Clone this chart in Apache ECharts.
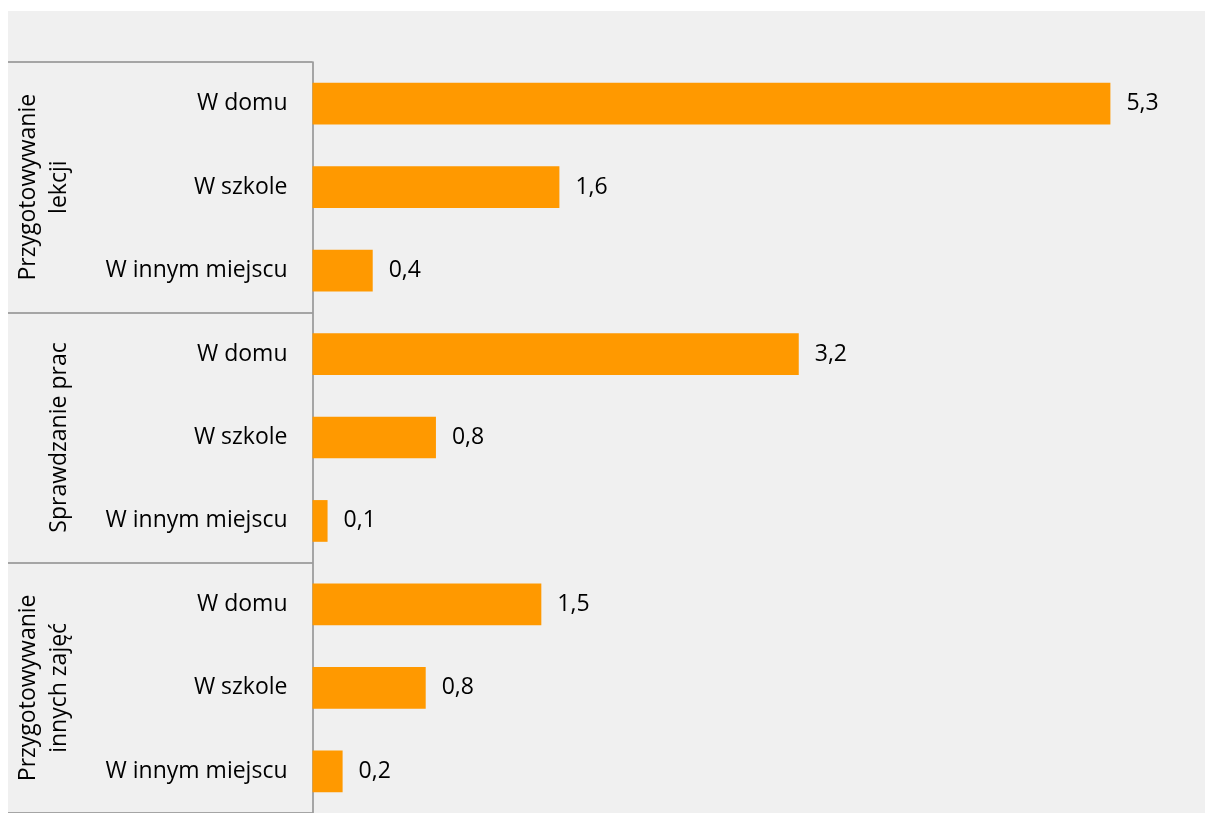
<!DOCTYPE html>
<html>
<head>
<meta charset="utf-8">
<script src="https://cdn.jsdelivr.net/npm/echarts@6/dist/echarts.min.js"></script>
<style>
  html, body { margin: 0; padding: 0; background: #ffffff; width: 1206px; height: 813px; overflow: hidden; }
  #chart { position: absolute; left: 8px; top: 11px; width: 1197px; height: 802px; }
</style>
</head>
<body>
<div id="chart"></div>
<script>
// Sub-categories (one per bar, top to bottom)
const subCategories = [
  'W domu', 'W szkole', 'W innym miejscu',
  'W domu', 'W szkole', 'W innym miejscu',
  'W domu', 'W szkole', 'W innym miejscu'
];
// Group categories (top to bottom)
const groupCategories = [
  'Przygotowywanie\nlekcji',
  'Sprawdzanie prac',
  'Przygotowywanie\ninnych zajęć'
];
// Bar values (labels shown rounded to 1 decimal)
const values = [5.3, 1.64, 0.4, 3.23, 0.82, 0.1, 1.52, 0.752, 0.2];

const FONT = 'Open Sans';
const chart = echarts.init(document.getElementById('chart'));
chart.setOption({
  backgroundColor: '#f0f0f0',
  animation: false,
  grid: { left: 304.5, top: 51, right: 64.5, bottom: 0, containLabel: false },
  xAxis: {
    type: 'value', min: 0, max: 5.5,
    show: false
  },
  yAxis: [
    {
      type: 'category',
      data: subCategories,
      inverse: true,
      position: 'left',
      axisLine: { show: true, lineStyle: { color: '#8c8c8c', width: 1.5 } },
      axisTick: { show: false },
      splitLine: { show: false },
      axisLabel: {
        margin: 25,
        padding: [6, 0, 0, 0],
        fontFamily: FONT, fontSize: 23, color: '#000000'
      }
    },
    {
      type: 'category',
      data: groupCategories,
      inverse: true,
      position: 'left',
      axisLine: { show: false },
      axisTick: { show: true, length: 305, interval: 0, lineStyle: { color: '#8c8c8c', width: 1.5 } },
      splitLine: { show: false },
      axisLabel: {
        interval: 0,
        rotate: 90,
        margin: 238,
        lineHeight: 31,
        fontFamily: FONT, fontSize: 23, color: '#000000'
      }
    }
  ],
  series: [{
    type: 'bar',
    yAxisIndex: 0,
    data: values,
    barWidth: '50%',
    itemStyle: { color: '#ff9900' },
    label: {
      show: true,
      position: 'right',
      distance: 16,
      padding: [6, 0, 0, 0],
      fontFamily: FONT, fontSize: 23, color: '#000000',
      formatter: p => p.value.toFixed(1).replace('.', ',')
    }
  }]
});
</script>
</body>
</html>
